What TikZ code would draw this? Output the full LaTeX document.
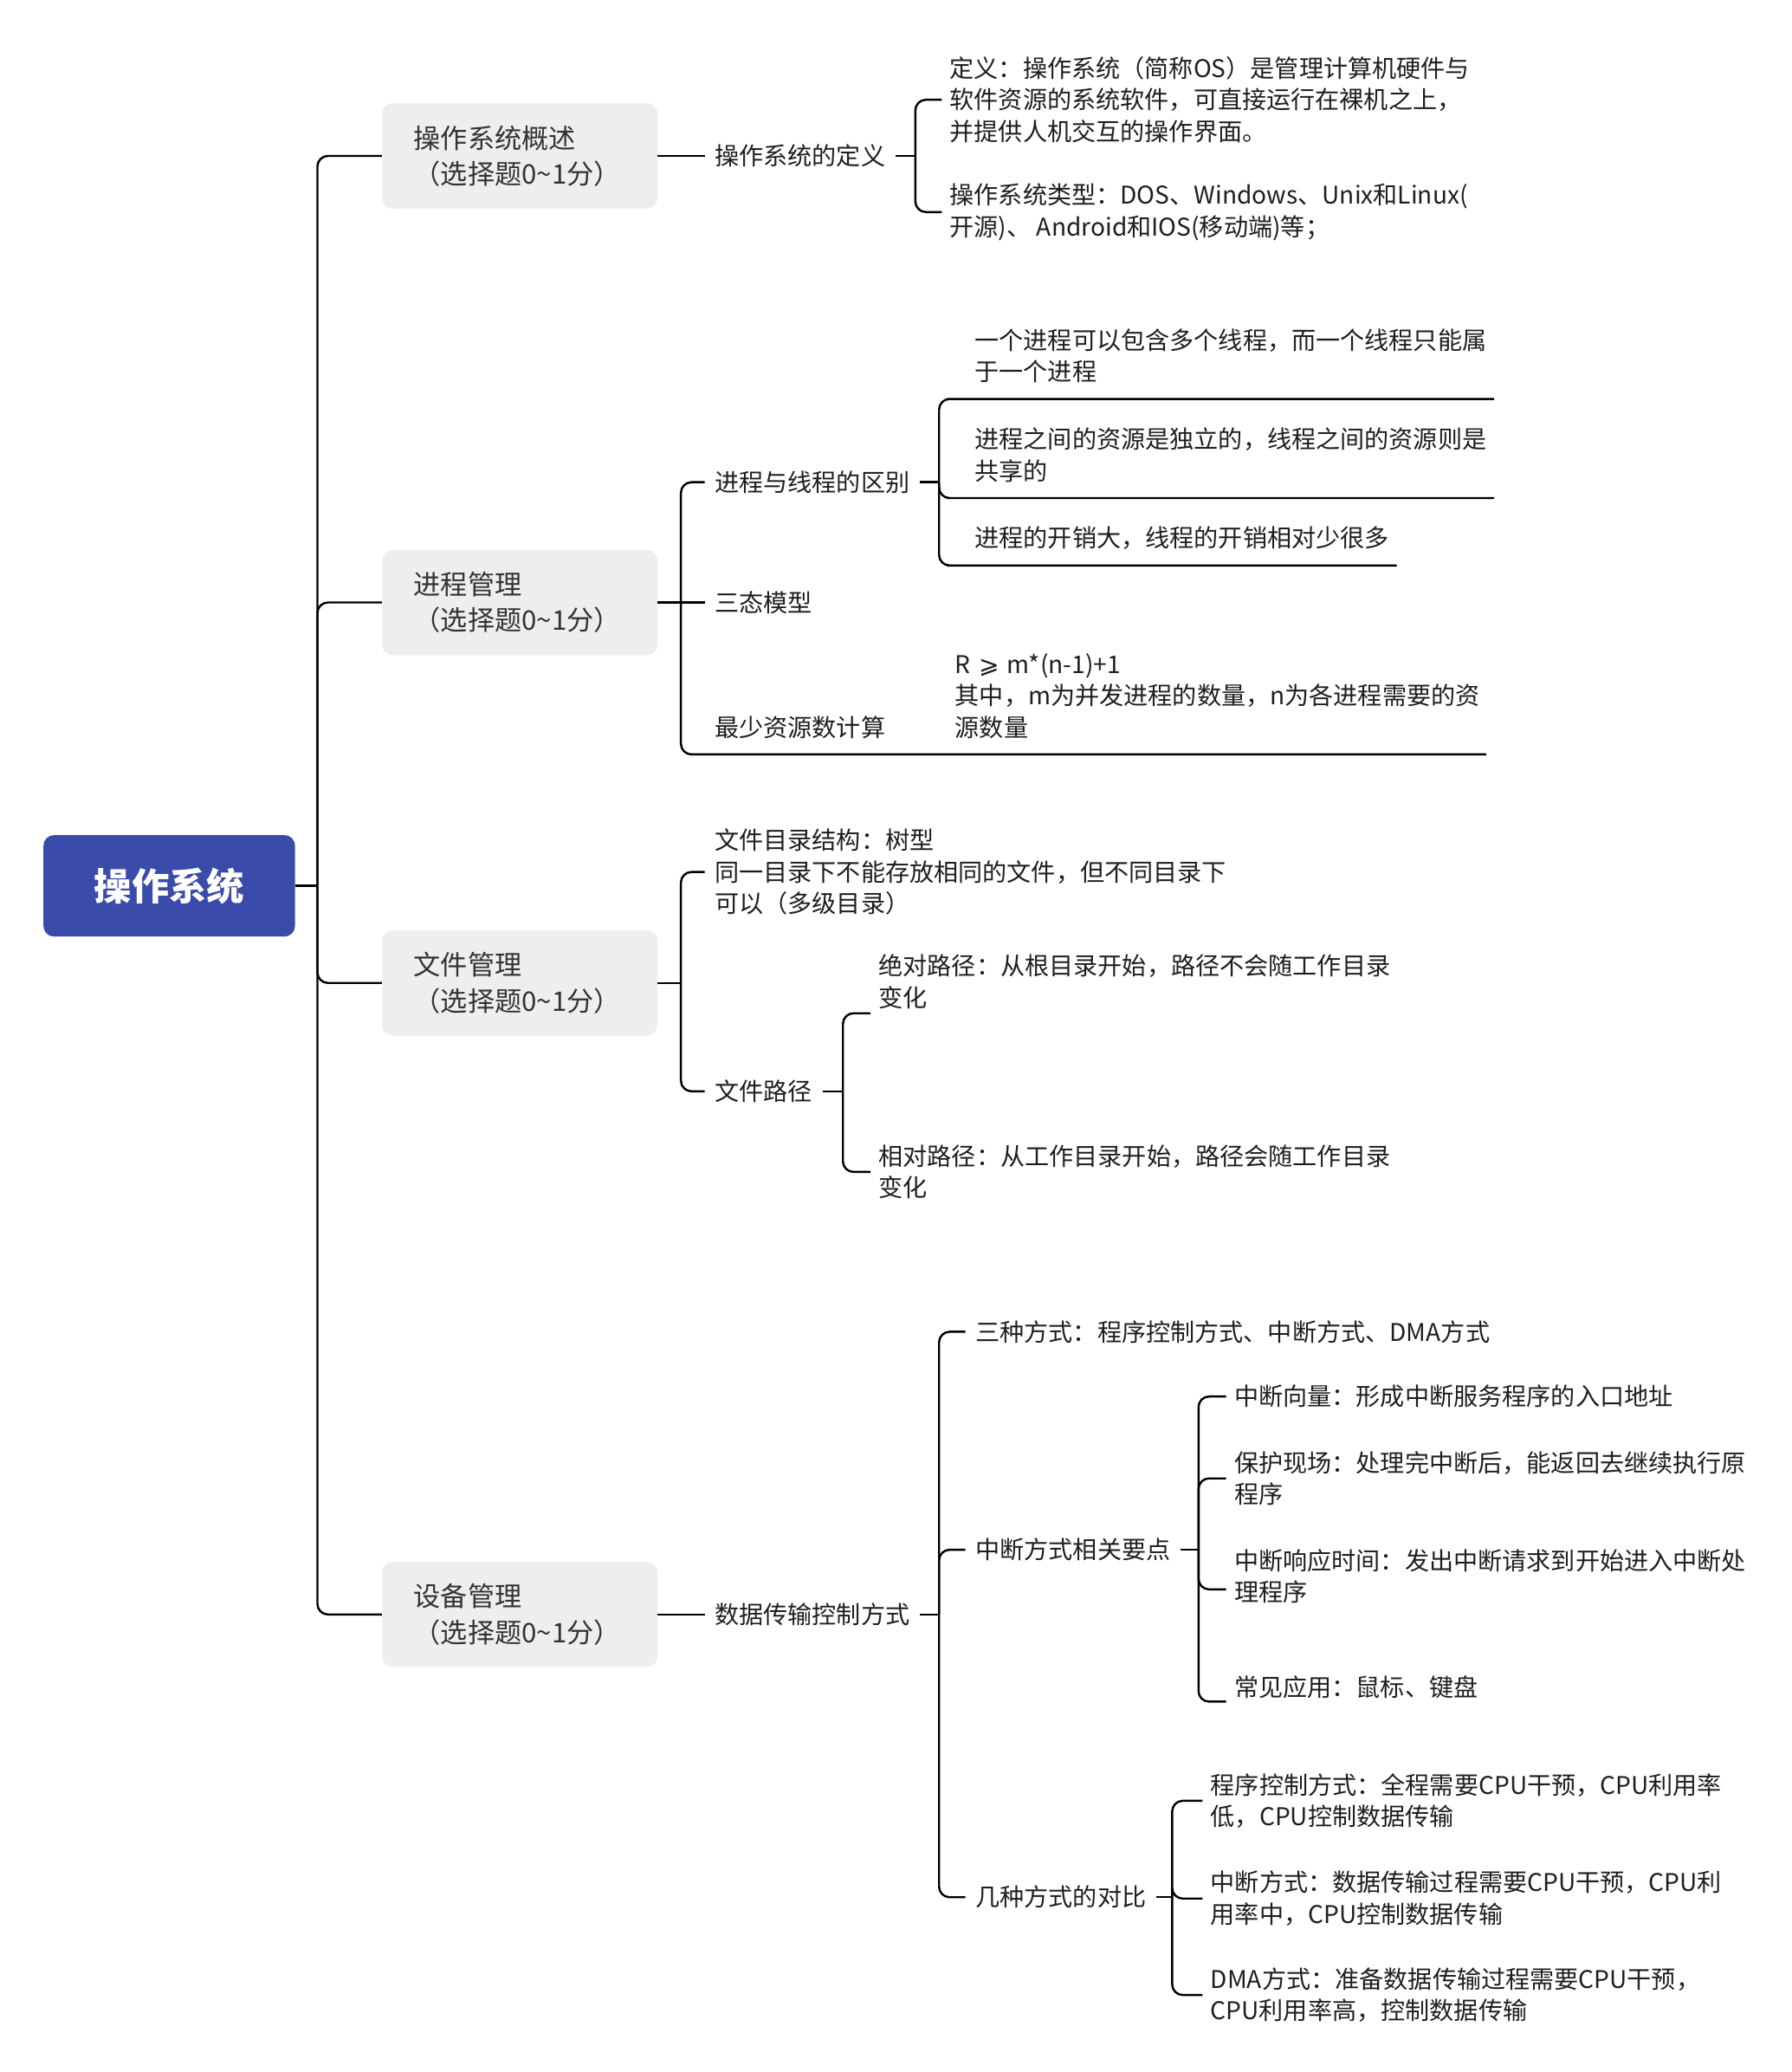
\documentclass[tikz,border=0pt]{standalone}
\usepackage{fontspec}
\setmainfont{Noto Sans CJK SC}
\newfontfamily\dejavu{DejaVu Sans}
\usetikzlibrary{calc}
\definecolor{rootblue}{HTML}{3A4BAA}
\definecolor{topicgray}{HTML}{EEEEEE}
\definecolor{txt}{HTML}{1E1E1E}
\definecolor{topictxt}{HTML}{333333}
\hfuzz=20pt
\hbadness=10000
\begin{document}
\begin{tikzpicture}[x=1pt,y=-1.003pt,
  conn/.style={line width=1.6pt, black},
  rc/.style={conn, rounded corners=8pt},
  rootnode/.style={fill=rootblue, rounded corners=8pt, minimum width=191pt, minimum height=77pt, text=white, font=\fontsize{28.5}{34}\selectfont\bfseries, inner sep=0pt},
  topic/.style={fill=topicgray, rounded corners=8pt, minimum width=209pt, minimum height=80pt, text=topictxt, font=\fontsize{20.5}{27}\selectfont, text width=161pt, align=left, inner xsep=24pt, inner ysep=0pt, anchor=west},
  mid/.style={text=txt, font=\fontsize{18.5}{24}\selectfont, inner xsep=7.5pt, inner ysep=2pt, anchor=west, align=left},
  leaf/.style={mid, inner xsep=6pt},
  uleaf/.style={text=txt, font=\fontsize{18.5}{24}\selectfont, inner xsep=13pt, inner ysep=12pt, anchor=south west, align=left},
]
\useasboundingbox (0,0) rectangle (1360,1568.3);

% root and topics
\node[rootnode] (root) at (128.5,670.5) {操作系统};
\coordinate (trunk) at (241,670.5);
\node[topic] (t1) at (290,118) {操作系统概述\\（选择题0\textasciitilde1分）};
\node[topic] (t2) at (290,456) {进程管理\\（选择题0\textasciitilde1分）};
\node[topic] (t3) at (290,744) {文件管理\\（选择题0\textasciitilde1分）};
\node[topic] (t4) at (290,1222) {设备管理\\（选择题0\textasciitilde1分）};

\draw[conn] (root.east) -- (trunk);
\foreach \t in {t1,t2,t3,t4} \draw[rc] (trunk) |- (\t.west);

% topic 1
\node[mid] (m1) at (535,118) {操作系统的定义};
\coordinate (j1) at (695,118);
\node[leaf] (l11) at (715,75.5) {定义：操作系统（简称OS）是管理计算机硬件与\\软件资源的系统软件，可直接运行在裸机之上，\\并提供人机交互的操作界面。};
\node[leaf] (l12) at (715,160.5) {操作系统类型：DOS、Windows、Unix和Linux(\\开源)、 Android和IOS(移动端)等；};
\draw[conn] (t1.east) -- (m1.west);
\draw[conn] (m1.east) -- (j1);
\draw[rc] (j1) |- (l11.west);
\draw[rc] (j1) |- (l12.west);

% topic 2
\coordinate (j2) at (517,456);
\node[mid] (m21) at (535,365) {进程与线程的区别};
\node[mid] (m22) at (535,456) {三态模型};
\node[uleaf, inner xsep=7.5pt] (m23) at (535,571) {最少资源数计算};
\node[uleaf, inner xsep=7pt, text width=396pt] (l23) at (718,571) {R {\dejavu ⩾} m*(n-1)+1\\其中，m为并发进程的数量，n为各进程需要的资\\源数量};
\draw[conn] (t2.east) -- (m22.west);
\draw[rc] (j2) |- (m21.west);
\draw[rc] (j2) |- (m23.south west) -- (l23.south east);

\coordinate (j21) at (713,365);
\node[uleaf, text width=381pt] (u1) at (727,302) {一个进程可以包含多个线程，而一个线程只能属\\于一个进程};
\node[uleaf, text width=381pt] (u2) at (727,377) {进程之间的资源是独立的，线程之间的资源则是\\共享的};
\node[uleaf, text width=307pt] (u3) at (727,428) {进程的开销大，线程的开销相对少很多};
\draw[conn] (m21.east) -- (j21);
\draw[rc] (j21) |- (u1.south west) -- (u1.south east);
\draw[rc] (j21) |- (u2.south west) -- (u2.south east);
\draw[rc] (j21) |- (u3.south west) -- (u3.south east);

% topic 3
\coordinate (j3) at (517,744);
\node[mid] (m31) at (535,660) {文件目录结构：树型\\同一目录下不能存放相同的文件，但不同目录下\\可以（多级目录）};
\node[mid] (m32) at (535,826) {文件路径};
\draw[conn] (t3.east) -- (j3);
\draw[rc] (j3) |- (m31.west);
\draw[rc] (j3) |- (m32.west);

\coordinate (j32) at (640,826);
\node[leaf] (l321) at (661,743) {绝对路径：从根目录开始，路径不会随工作目录\\变化};
\node[leaf] (l322) at (661,887) {相对路径：从工作目录开始，路径会随工作目录\\变化};
\draw[conn] (m32.east) -- (j32);
\draw[rc] (j32) |- ([yshift=-24pt]l321.west);
\draw[rc] (j32) |- (l322.west);

% topic 4
\node[mid] (m4) at (535,1222) {数据传输控制方式};
\coordinate (j4) at (713,1222);
\draw[conn] (t4.east) -- (m4.west);
\draw[conn] (m4.east) -- (j4);
\node[mid] (m41) at (733,1008) {三种方式：程序控制方式、中断方式、DMA方式};
\node[mid] (m42) at (733,1173) {中断方式相关要点};
\node[mid] (m43) at (733,1436) {几种方式的对比};
\draw[rc] (j4) |- (m41.west);
\draw[rc] (j4) |- (m42.west);
\draw[rc] (j4) |- (m43.west);

\coordinate (j42) at (910,1173);
\node[leaf] (l421) at (931,1057) {中断向量：形成中断服务程序的入口地址};
\node[leaf] (l422) at (931,1119) {保护现场：处理完中断后，能返回去继续执行原\\程序};
\node[leaf] (l423) at (931,1193) {中断响应时间：发出中断请求到开始进入中断处\\理程序};
\node[leaf] (l424) at (931,1277) {常见应用：鼠标、键盘};
\draw[conn] (m42.east) -- (j42);
\draw[rc] (j42) |- (l421.west);
\draw[rc] (j42) |- (l422.west);
\draw[rc] (j42) |- ([yshift=-10pt]l423.west);
\draw[rc] (j42) |- ([yshift=-11pt]l424.west);

\coordinate (j43) at (890,1436);
\node[leaf] (l431) at (913,1363) {程序控制方式：全程需要CPU干预，CPU利用率\\低，CPU控制数据传输};
\node[leaf] (l432) at (913,1437) {中断方式：数据传输过程需要CPU干预，CPU利\\用率中，CPU控制数据传输};
\node[leaf] (l433) at (913,1510) {DMA方式：准备数据传输过程需要CPU干预，\\CPU利用率高，控制数据传输};
\draw[conn] (m43.east) -- (j43);
\draw[rc] (j43) |- (l431.west);
\draw[rc] (j43) |- (l432.west);
\draw[rc] (j43) |- (l433.west);
\end{tikzpicture}
\end{document}
